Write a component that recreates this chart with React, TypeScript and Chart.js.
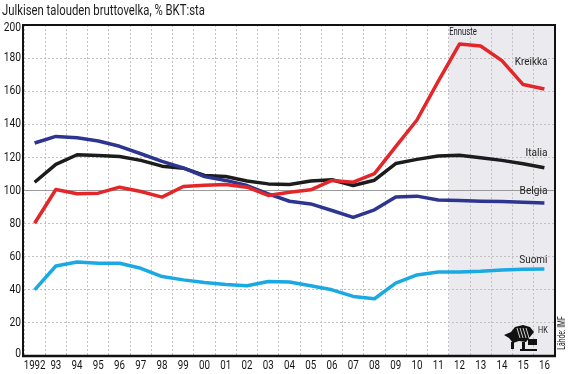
import { useEffect, useRef } from "react";
import { Chart, registerables } from "chart.js";

Chart.register(...registerables);

const years = ["1992","93","94","95","96","97","98","99","00","01","02","03","04","05","06","07","08","09","10","11","12","13","14","15","16"];
const kreikka = [80.2,100.6,98,98.4,102,99.4,96,102.4,103.2,103.6,102,97,99,100.4,106.1,105,110.2,126.5,142.6,165.9,188.5,187.3,178.5,164,161.3];
const italia = [105,115.8,121.6,121.2,120.6,118.2,114.7,113.5,109.1,108.5,105.7,104,103.6,105.7,106.5,103,106.2,116.3,118.8,120.8,121.3,119.8,118.2,116.2,113.7];
const belgia = [128.7,132.7,131.9,129.9,126.7,122.2,117.6,113.7,108.4,106.1,103,98,93.5,91.9,87.9,83.8,88.3,96,96.6,94.3,93.9,93.5,93.3,92.9,92.5];
const suomi = [40,54.4,56.8,56,56,53,48,46,44.4,43.2,42.4,45,44.7,42.4,40,36,34.6,44,49,50.8,50.8,51.2,52,52.4,52.6];

const seriesNames = ["Kreikka", "Belgia", "Italia", "Suomi"];
const labelValues = [177.5, 99.8, 122.5, 57.6];
const forecastStart = 20; // index of 2012
const forecastLabel = "Ennuste";
const forecastLabelValue = 195.5;
const title = "Julkisen talouden bruttovelka, % BKT:sta";
const source = "Lähde: IMF";
const yMin = 0;
const yMax = 200;
const yStep = 20;

const FONT = "Roboto, 'DejaVu Sans', sans-serif";
const colors = { kreikka: "#e3262a", belgia: "#2d3590", italia: "#1c1c1c", suomi: "#1aa9e2" };
const labelSx: Record<string, number> = { Kreikka: 0.9, Belgia: 0.92, Italia: 0.92, Suomi: 0.9, Ennuste: 0.7 };

function drawText(
  ctx: CanvasRenderingContext2D,
  text: string,
  x: number,
  y: number,
  align: CanvasTextAlign,
  size: number,
  sx: number,
  color: string,
  baseline: CanvasTextBaseline = "middle"
) {
  ctx.save();
  ctx.font = `${size}px ${FONT}`;
  ctx.fillStyle = color;
  ctx.textAlign = align;
  ctx.textBaseline = baseline;
  ctx.translate(x, y);
  ctx.scale(sx, 1);
  ctx.fillText(text, 0, 0);
  ctx.restore();
}

const decor = {
  id: "decor",
  beforeDraw(chart: any) {
    const { ctx, chartArea: a, scales } = chart;
    const x = scales.x;
    const xs = (x.getPixelForValue(forecastStart - 1) + x.getPixelForValue(forecastStart)) / 2;
    ctx.save();
    ctx.fillStyle = "#ebebef";
    ctx.fillRect(xs, a.top, a.right - xs, a.bottom - a.top);
    ctx.restore();
  },
  afterDatasetsDraw(chart: any) {
    const { ctx, chartArea: a, scales } = chart;
    const x = scales.x;
    const y = scales.y;
    ctx.save();
    // frame
    ctx.strokeStyle = "#111";
    ctx.lineWidth = 2;
    ctx.strokeRect(a.left - 1, a.top, a.right - a.left + 1, a.bottom - a.top);
    ctx.lineWidth = 2.5;
    ctx.beginPath();
    ctx.moveTo(a.left - 2, a.bottom);
    ctx.lineTo(a.right + 1, a.bottom);
    ctx.stroke();
    ctx.restore();

    // title
    drawText(ctx, title, 2, 15, "left", 14.5, 0.78, "#1a1a1a", "alphabetic");

    // x tick labels
    years.forEach((lab, i) => {
      drawText(ctx, lab, x.getPixelForValue(i), a.bottom + 9.5, "center", 12.5, 0.78, "#151515");
    });
    // y tick labels
    y.ticks.forEach((t: any) => {
      let py = y.getPixelForValue(t.value);
      if (t.value === yMax) py += 3;
      if (t.value === yMin) py -= 2;
      drawText(ctx, String(t.value), a.left - 3, py, "right", 12.5, 0.82, "#151515");
    });

    // series labels
    const rx = x.getPixelForValue(years.length - 1) + 3;
    seriesNames.forEach((n, i) => {
      drawText(ctx, n, rx, y.getPixelForValue(labelValues[i]), "right", 11, labelSx[n], "#222");
    });
    const fx = (x.getPixelForValue(forecastStart) + x.getPixelForValue(forecastStart + 1)) / 2 - 7;
    drawText(ctx, forecastLabel, fx, y.getPixelForValue(forecastLabelValue), "center", 11, labelSx.Ennuste, "#222");

    // source (rotated)
    ctx.save();
    ctx.translate(a.right + 7, a.bottom - 23);
    ctx.rotate(-Math.PI / 2);
    drawText(ctx, source, 0, 0, "center", 10, 0.68, "#222");
    ctx.restore();

    // logo (rough emblem)
    ctx.save();
    const lx = a.right - 52;
    const ly = a.bottom - 33;
    ctx.fillStyle = "#111";
    ctx.beginPath();
    ctx.moveTo(lx + 1, ly + 12);
    ctx.lineTo(lx + 8, ly + 9);
    ctx.lineTo(lx + 12, ly + 4);
    ctx.lineTo(lx + 20, ly + 2);
    ctx.lineTo(lx + 27, ly + 4);
    ctx.lineTo(lx + 31, ly + 9);
    ctx.lineTo(lx + 27, ly + 14);
    ctx.lineTo(lx + 23, ly + 19);
    ctx.lineTo(lx + 16, ly + 18);
    ctx.lineTo(lx + 10, ly + 20);
    ctx.lineTo(lx + 6, ly + 15);
    ctx.closePath();
    ctx.fill();
    ctx.fillRect(lx + 8, ly + 19, 3, 7);
    ctx.fillRect(lx + 19, ly + 19, 3, 8);
    ctx.fillRect(lx + 17, ly + 26, 17, 2);
    ctx.fillRect(lx + 25, ly + 16, 9, 6);
    ctx.strokeStyle = "#fff";
    ctx.lineWidth = 0.8;
    for (let i = 0; i < 4; i++) {
      ctx.beginPath();
      ctx.moveTo(lx + 14 + i * 3, ly + 5);
      ctx.lineTo(lx + 17 + i * 3, ly + 15);
      ctx.stroke();
    }
    ctx.restore();
    drawText(ctx, "HK", lx + 35, ly + 8, "left", 8.5, 0.85, "#222");
  },
};

export default function App() {
  const ref = useRef<HTMLCanvasElement | null>(null);
  useEffect(() => {
    document.body.style.margin = "0";
    const canvas = ref.current;
    if (!canvas) return;
    const mk = (label: string, data: number[], color: string) => ({
      label,
      data,
      borderColor: color,
      backgroundColor: color,
      borderWidth: 3.5,
      pointRadius: 0,
      tension: 0,
      borderJoinStyle: "round" as const,
      fill: false,
    });
    const chart = new Chart(canvas, {
      type: "line",
      data: {
        labels: years,
        datasets: [
          mk("Kreikka", kreikka, colors.kreikka),
          mk("Belgia", belgia, colors.belgia),
          mk("Italia", italia, colors.italia),
          mk("Suomi", suomi, colors.suomi),
        ],
      },
      options: {
        animation: false,
        responsive: false,
        events: [],
        layout: { padding: { top: 25, right: 13, left: 0, bottom: 0 } },
        plugins: { legend: { display: false }, tooltip: { enabled: false }, title: { display: false } },
        scales: {
          x: {
            offset: true,
            grid: { offset: true, color: "#c2c2c2", lineWidth: 1, drawTicks: false },
            border: { display: false, dash: [2, 2] },
            ticks: { display: false, autoSkip: false, maxRotation: 0 },
            afterFit: (s: any) => { s.height = 18; },
          },
          y: {
            min: yMin,
            max: yMax,
            grid: {
              drawTicks: false,
              lineWidth: 1,
              color: (c: any) => (c.tick && c.tick.value === 100 ? "#9a9a9a" : "#c2c2c2"),
            },
            border: {
              display: false,
              dash: (c: any) => (c.tick && c.tick.value === 100 ? [] : [2, 2]),
            },
            ticks: { display: false, stepSize: yStep },
            afterFit: (s: any) => { s.width = 24; },
          },
        },
      },
      plugins: [decor],
    } as any);
    return () => chart.destroy();
  }, []);
  return (
    <div style={{ position: "absolute", left: 0, top: 0, width: 568, height: 374 }}>
      <canvas ref={ref} width={568} height={374} style={{ display: "block", width: 568, height: 374 }} />
    </div>
  );
}
